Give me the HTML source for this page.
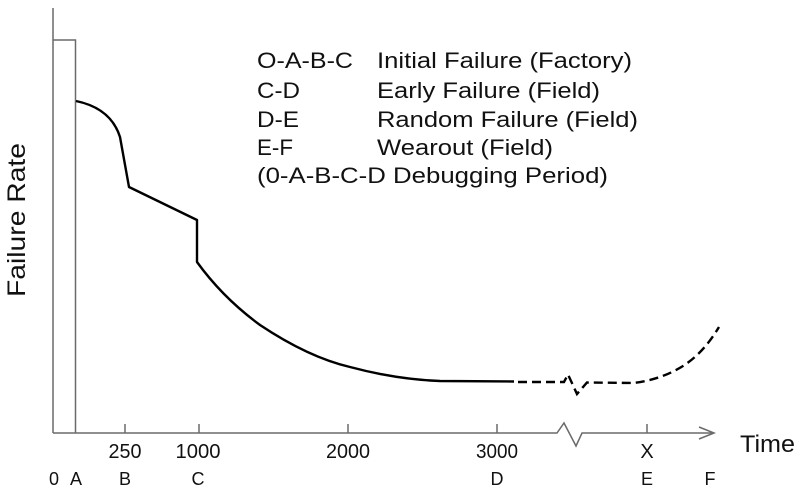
<!DOCTYPE html>
<html>
<head>
<meta charset="utf-8">
<style>
  html, body { margin: 0; padding: 0; background: #fff; }
  svg { display: block; }
  text { font-family: "Liberation Sans", Arial, sans-serif; fill: #111; }
</style>
</head>
<body>
<svg width="800" height="493" viewBox="0 0 800 493" xmlns="http://www.w3.org/2000/svg">
  <rect x="0" y="0" width="800" height="493" fill="#fff"/>

  <!-- Axes -->
  <g stroke="#6a6a6a" stroke-width="1.5" fill="none">
    <line x1="53" y1="8" x2="53" y2="433"/>
    <polyline points="53,40 75.5,40 75.5,433"/>
    <polyline points="53,433 557,433 564,423 576,446 582,433 713,433"/>
    <polyline points="699,427 714,433 699,439"/>
    <line x1="125" y1="424" x2="125" y2="433"/>
    <line x1="199" y1="424" x2="199" y2="433"/>
    <line x1="348" y1="424" x2="348" y2="433"/>
    <line x1="497" y1="424" x2="497" y2="433"/>
    <line x1="647" y1="424" x2="647" y2="433"/>
  </g>

  <!-- Solid curve -->
  <path d="M76,101 C100,106 114,118 120,137 L129,187 L197,220 L197,262
           C210,280 230,303 260,325 C290,345 320,360 350,367
           C380,375 410,380 440,381 L514,381.5"
        fill="none" stroke="#000" stroke-width="2.4" stroke-linejoin="round"/>

  <!-- Dashed continuation -->
  <path d="M518,382 L564,382 L568,374.5 L577,394 L587,382.5 L633,383
           C650,381 667,376 683,366 C697,357 708,345 719,327"
        fill="none" stroke="#000" stroke-width="2.4" stroke-dasharray="9,5"/>

  <!-- Legend -->
  <g font-size="22">
    <text x="257" y="68" textLength="96" lengthAdjust="spacingAndGlyphs">O-A-B-C</text>
    <text x="377" y="68" textLength="255" lengthAdjust="spacingAndGlyphs">Initial Failure (Factory)</text>
    <text x="257" y="98" textLength="43" lengthAdjust="spacingAndGlyphs">C-D</text>
    <text x="377" y="98" textLength="223" lengthAdjust="spacingAndGlyphs">Early Failure (Field)</text>
    <text x="257" y="127" textLength="42" lengthAdjust="spacingAndGlyphs">D-E</text>
    <text x="377" y="127" textLength="261" lengthAdjust="spacingAndGlyphs">Random Failure (Field)</text>
    <text x="257" y="155" textLength="36" lengthAdjust="spacingAndGlyphs">E-F</text>
    <text x="377" y="155" textLength="176" lengthAdjust="spacingAndGlyphs">Wearout (Field)</text>
    <text x="257" y="183" textLength="351" lengthAdjust="spacingAndGlyphs">(0-A-B-C-D Debugging Period)</text>
  </g>

  <!-- Y label -->
  <text x="0" y="0" font-size="25" transform="translate(25,297) rotate(-90)" textLength="154" lengthAdjust="spacingAndGlyphs">Failure Rate</text>

  <!-- X label -->
  <text x="740" y="452" font-size="24" textLength="55" lengthAdjust="spacingAndGlyphs">Time</text>

  <!-- Tick labels -->
  <g font-size="20">
    <text x="108.5" y="458" textLength="33" lengthAdjust="spacingAndGlyphs">250</text>
    <text x="175.5" y="458" textLength="45" lengthAdjust="spacingAndGlyphs">1000</text>
    <text x="326" y="458" textLength="44" lengthAdjust="spacingAndGlyphs">2000</text>
    <text x="476" y="458" textLength="42" lengthAdjust="spacingAndGlyphs">3000</text>
  </g>
  <g font-size="20" text-anchor="middle">
    <text x="647" y="458">X</text>
  </g>
  <g font-size="18" text-anchor="middle">
    <text x="54" y="485">0</text>
    <text x="76" y="485">A</text>
    <text x="125" y="485">B</text>
    <text x="198" y="485">C</text>
    <text x="497" y="485">D</text>
    <text x="647" y="485">E</text>
    <text x="710" y="485">F</text>
  </g>
</svg>
</body>
</html>
